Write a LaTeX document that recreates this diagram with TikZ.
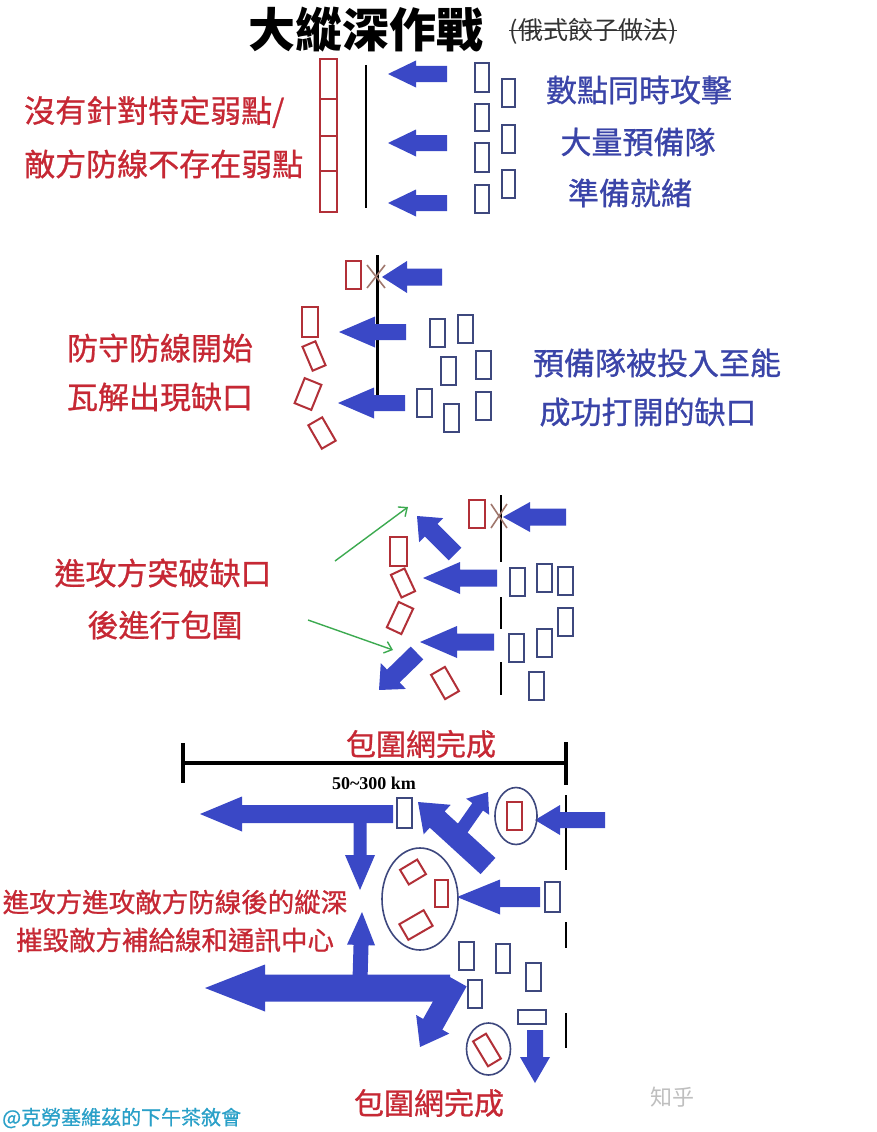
\documentclass[tikz,border=0pt]{standalone}
\usepackage{fontspec}
\newfontfamily\cjk{Noto Sans CJK TC}
\newfontfamily\cjkm[FakeBold=0.8]{Noto Sans CJK TC}
\setmainfont{Liberation Serif}
\usetikzlibrary{arrows.meta}
\definecolor{redtxt}{RGB}{198,40,52}
\definecolor{redbox}{RGB}{178,48,56}
\definecolor{bluearr}{RGB}{58,72,198}
\definecolor{bluetxt}{RGB}{58,68,168}
\definecolor{bluebox}{RGB}{62,72,126}
\definecolor{greenarr}{RGB}{60,170,80}
\definecolor{crossc}{RGB}{160,120,110}
\definecolor{footc}{RGB}{42,160,200}
\newcommand\barr[7]{%
 \pgfmathsetmacro\barang{atan2((#2)-(#4),(#3)-(#1))}%
 \pgfmathsetmacro\barlen{veclen((#3)-(#1),(#4)-(#2))}%
 \fill[bluearr,shift={(#1,#2)},rotate=\barang] (0,-#5/2) -- (\barlen-#7,-#5/2) -- (\barlen-#7,-#6/2) -- (\barlen,0) -- (\barlen-#7,#6/2) -- (\barlen-#7,#5/2) -- (0,#5/2) -- cycle;}
\tikzset{
 rbox/.style={draw=redbox,line width=2pt,inner sep=0,minimum width=15pt,minimum height=28pt},
 bbox/.style={draw=bluebox,line width=2pt,inner sep=0,minimum width=14pt,minimum height=28pt},
 redt/.style={text=redtxt,inner sep=0,font=\cjkm\fontsize{31}{31}\selectfont},
 redts/.style={text=redtxt,inner sep=0,font=\cjkm\fontsize{26.5}{26.5}\selectfont},
 bluet/.style={text=bluetxt,inner sep=0,font=\cjkm\fontsize{31}{31}\selectfont},
 frontline/.style={draw=black,line width=2.6pt},
 encircle/.style={draw=bluebox,line width=1.6pt},
 greenarrow/.style={draw=greenarr,line width=1.4pt,-{Straight Barb[length=7pt,width=12pt]}},
 crossline/.style={draw=crossc,line width=1.6pt}
}
\begin{document}
\begin{tikzpicture}[x=1pt,y=-1pt]
\useasboundingbox (0,0) rectangle (876,1132);
\fill[white] (0,0) rectangle (876,1132);

% ---------- title ----------
\node[inner sep=0,font=\cjk\bfseries\fontsize{47}{47}\selectfont] (title) at (366,30) {大縱深作戰};
\node[inner sep=0,text=black!80,font=\cjk\fontsize{25}{25}\selectfont] (sub) at (593,31) {(俄式餃子做法)};
\draw[black!80,line width=1pt] (sub.west) -- (sub.east);

% ---------- section 1 ----------
\node[rbox,minimum width=17pt,minimum height=40pt] (s1r1) at (328.5,79) {};
\node[rbox,minimum width=17pt,minimum height=37pt] (s1r2) at (328.5,117.5) {};
\node[rbox,minimum width=17pt,minimum height=35pt] (s1r3) at (328.5,153.5) {};
\node[rbox,minimum width=17pt,minimum height=41pt] (s1r4) at (328.5,191.5) {};
\coordinate (s1la) at (366,65); \coordinate (s1lb) at (366,208);
\draw[frontline] (s1la) -- (s1lb);
\barr{447}{74}{388}{74}{16}{27}{28}
\barr{447}{143}{388}{143}{16}{27}{28}
\barr{447}{203}{388}{203}{16}{27}{28}
\node[bbox,minimum height=29pt] (s1b1) at (482,77.5) {};
\node[bbox,minimum height=27pt] (s1b2) at (482,117.5) {};
\node[bbox,minimum height=29pt] (s1b3) at (482,157.5) {};
\node[bbox,minimum height=28pt] (s1b4) at (482,199) {};
\node[bbox,minimum width=13pt] (s1b5) at (508,93) {};
\node[bbox,minimum width=13pt] (s1b6) at (508,139) {};
\node[bbox,minimum width=13pt] (s1b7) at (508,184) {};
\node[bluet] (t1a) at (639,90) {數點同時攻擊};
\node[bluet] (t1b) at (638,142) {大量預備隊};
\node[bluet] (t1c) at (630,193) {準備就緒};
\node[redt,anchor=west] (t1d) at (24,112) {沒有針對特定弱點/};
\node[redt,anchor=west] (t1e) at (24,164) {敵方防線不存在弱點};

% ---------- section 2 ----------
\coordinate (s2la) at (377,255); \coordinate (s2lb) at (377,395);
\draw[frontline,line width=3pt] (s2la) -- (s2lb);
\barr{442}{277}{382}{277}{17}{32}{25}
\barr{406}{332}{339}{332}{16}{31}{36}
\barr{405}{403}{338}{403}{16}{31}{36}
\node[rbox] (s2r0) at (353,275) {};
\draw[crossline] (367,265) -- (385,288) (367,288) -- (385,265);
\node[rbox,minimum width=16pt,minimum height=30pt] (s2r1) at (310,322) {};
\node[rbox,minimum width=14pt,minimum height=26pt,rotate=23] (s2r2) at (314,356) {};
\node[rbox,minimum width=18pt,minimum height=27pt,rotate=-22] (s2r3) at (308,394) {};
\node[rbox,minimum width=16pt,minimum height=27pt,rotate=30] (s2r4) at (322,433) {};
\node[bbox,minimum width=15pt] (s2b1) at (437.5,332.5) {};
\node[bbox,minimum width=15pt] (s2b2) at (465,328.5) {};
\node[bbox,minimum width=15pt] (s2b3) at (448,370.5) {};
\node[bbox,minimum width=15pt] (s2b4) at (483,365) {};
\node[bbox,minimum width=15pt] (s2b5) at (424.5,403) {};
\node[bbox,minimum width=15pt] (s2b6) at (451.5,417.5) {};
\node[bbox,minimum width=15pt] (s2b7) at (483,406) {};
\node[redt] (t2a) at (160,348) {防守防線開始};
\node[redt] (t2b) at (160,397) {瓦解出現缺口};
\node[bluet] (t2c) at (657,363) {預備隊被投入至能};
\node[bluet] (t2d) at (648,412) {成功打開的缺口};

% ---------- section 3 ----------
\coordinate (s3a) at (501,495); \coordinate (s3b) at (501,562);
\coordinate (s3c) at (501,597); \coordinate (s3d) at (501,629);
\coordinate (s3e) at (501,662); \coordinate (s3f) at (501,695);
\draw[frontline] (s3a) -- (s3b) (s3c) -- (s3d) (s3e) -- (s3f);
\barr{566}{517}{503}{517}{17}{30}{27}
\barr{497}{578}{423}{578}{17}{32}{37}
\barr{494}{642}{420}{642}{17}{32}{37}
\barr{455}{554}{417}{516}{18}{34}{20}
\barr{417}{653}{379}{690}{18}{36}{20}
\node[rbox,minimum width=16pt] (s3r0) at (477,514) {};
\draw[crossline] (491,504) -- (507,528) (491,528) -- (507,504);
\node[rbox,minimum width=17pt,minimum height=29pt] (s3r1) at (398.5,551.5) {};
\node[rbox,minimum width=15pt,minimum height=25pt,rotate=25] (s3r2) at (403,583) {};
\node[rbox,minimum width=16pt,minimum height=28pt,rotate=-25] (s3r3) at (400,618) {};
\node[rbox,minimum width=16pt,minimum height=28pt,rotate=30] (s3r4) at (445,683) {};
\node[bbox,minimum width=15pt] (s3b1) at (517.5,582) {};
\node[bbox,minimum width=15pt] (s3b2) at (544.5,577.5) {};
\node[bbox,minimum width=15pt] (s3b3) at (565.5,581) {};
\node[bbox,minimum width=15pt] (s3b4) at (565.5,622) {};
\node[bbox,minimum width=15pt] (s3b5) at (516.5,647.5) {};
\node[bbox,minimum width=15pt] (s3b6) at (544.5,643) {};
\node[bbox,minimum width=15pt] (s3b7) at (536.5,686) {};
\coordinate (g1s) at (335,561); \coordinate (g1e) at (408,507);
\coordinate (g2s) at (308,620); \coordinate (g2e) at (393,650);
\draw[greenarrow] (g1s) -- (g1e);
\draw[greenarrow] (g2s) -- (g2e);
\node[redt] (t3a) at (163,573) {進攻方突破缺口};
\node[redt] (t3b) at (165,625) {後進行包圍};

% ---------- section 4 ----------
\node[redt,font=\cjkm\fontsize{30}{30}\selectfont] (t4a) at (421,744) {包圍網完成};
\coordinate (sbl) at (183,763); \coordinate (sbr) at (566,763);
\draw[black,line width=4pt] (sbl) -- (sbr);
\draw[black,line width=4pt] (183,743) -- (183,783) (566,742) -- (566,785);
\node[inner sep=0,font=\bfseries\fontsize{18}{18}\selectfont] (km) at (374,783) {50\textasciitilde300 km};
\draw[frontline] (566,795) -- (566,870) (566,922) -- (566,948) (566,1013) -- (566,1048);

\barr{393}{814}{200}{814}{18}{35}{42}
\barr{360}{820}{360}{890}{13}{30}{35}
\barr{360}{980}{362}{912}{15}{28}{33}
\barr{488}{866}{418}{802}{22}{40}{26}
\barr{460}{832}{488}{792}{13}{28}{18}
\barr{605}{820}{535}{820}{16}{30}{25}
\barr{540}{897}{457}{897}{20}{35}{43}
\barr{450}{988}{205}{988}{27}{47}{60}
\barr{457}{981}{420}{1047}{22}{38}{26}
\barr{535}{1030}{535}{1083}{16}{30}{26}

\node[bbox,minimum width=15pt,minimum height=30pt] (s4b0) at (404.5,813) {};
\draw[encircle] (516,816) ellipse [x radius=21, y radius=28.5];
\node[rbox,minimum width=15pt,minimum height=28pt] (s4r0) at (514.5,816) {};
\draw[encircle] (420,899) ellipse [x radius=38, y radius=51];
\node[rbox,minimum width=20pt,minimum height=17pt,rotate=31] (s4r1) at (413,872) {};
\node[rbox,minimum width=13pt,minimum height=27pt] (s4r2) at (441.5,893.5) {};
\node[rbox,minimum width=28pt,minimum height=18pt,rotate=30] (s4r3) at (416,925) {};
\node[bbox,minimum width=15pt,minimum height=30pt] (s4b1) at (552.5,897) {};
\node[bbox,minimum width=15pt] (s4b2) at (466.5,956) {};
\node[bbox,minimum width=14pt,minimum height=29pt] (s4b3) at (503,958.5) {};
\node[bbox,minimum width=15pt] (s4b4) at (533.5,977) {};
\node[bbox,minimum width=14pt] (s4b5) at (475,994) {};
\node[bbox,minimum width=28pt,minimum height=14pt] (s4b6) at (532,1017) {};
\draw[encircle] (488.5,1049) ellipse [x radius=22, y radius=26];
\node[rbox,minimum width=15pt,minimum height=29pt,rotate=31] (s4r4) at (487,1050) {};

\node[redts] (t4b) at (175,902) {進攻方進攻敵方防線後的縱深};
\node[redts] (t4c) at (175,940) {摧毀敵方補給線和通訊中心};
\node[redt,font=\cjkm\fontsize{30}{30}\selectfont] (t4d) at (429,1103) {包圍網完成};

% ---------- footer ----------
\node[inner sep=0,anchor=west,text=footc,font=\cjkm\fontsize{20}{20}\selectfont] (foot) at (2,1118) {@克勞塞維茲的下午茶敘會};
\node[inner sep=0,text=black!25,font=\cjk\fontsize{22}{22}\selectfont] (wm) at (672,1097) {知乎};
\end{tikzpicture}
\end{document}
